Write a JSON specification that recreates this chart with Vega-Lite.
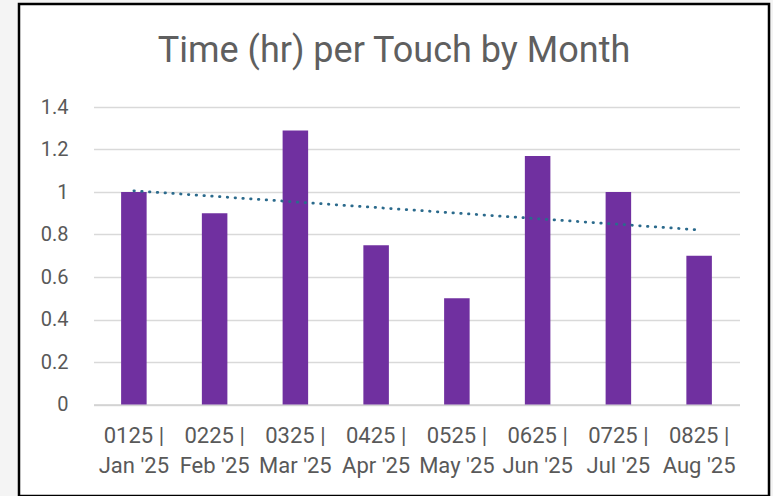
{
  "$schema": "https://vega.github.io/schema/vega-lite/v6.json",
  "autosize": {"type": "none"},
  "padding": {"left": 19, "top": 4, "right": 4, "bottom": 0},
  "width": 750,
  "height": 492,
  "background": "#f4f4f4",
  "datasets": {
    "months": [
      {"i": 1, "label": "0125 | Jan '25", "value": 1.0},
      {"i": 2, "label": "0225 | Feb '25", "value": 0.9},
      {"i": 3, "label": "0325 | Mar '25", "value": 1.29},
      {"i": 4, "label": "0425 | Apr '25", "value": 0.75},
      {"i": 5, "label": "0525 | May '25", "value": 0.5},
      {"i": 6, "label": "0625 | Jun '25", "value": 1.17},
      {"i": 7, "label": "0725 | Jul '25", "value": 1.0},
      {"i": 8, "label": "0825 | Aug '25", "value": 0.7}
    ]
  },
  "data": {"name": "months"},
  "title": {
    "text": "Time (hr) per Touch by Month",
    "fontSize": 36,
    "font": "Roboto",
    "fontWeight": "normal",
    "color": "#5f5f5f",
    "anchor": "middle",
    "baseline": "alphabetic",
    "offset": -94
  },
  "config": {
    "view": {"stroke": "#000000", "strokeWidth": 2.5, "fill": "white"},
    "font": "Roboto"
  },
  "layer": [
    {
      "mark": {"type": "bar", "color": "#7030A0"},
      "encoding": {
        "x": {
          "field": "label",
          "type": "nominal",
          "sort": null,
          "title": null,
          "scale": {"range": [74.5, 720.5], "paddingInner": 0.684, "paddingOuter": 0.342},
          "axis": {
            "orient": "bottom",
            "offset": -91.5,
            "labelAngle": 0,
            "labelExpr": "[slice(datum.value, 0, 6), slice(datum.value, 7)]",
            "labelFontSize": 22,
            "labelColor": "#595959",
            "labelLineHeight": 30,
            "labelPadding": 21,
            "ticks": false,
            "domainColor": "#d0d0d0",
            "domainWidth": 1.5
          }
        },
        "y": {
          "field": "value",
          "type": "quantitative",
          "title": null,
          "scale": {"domain": [0, 1.4], "range": [400.5, 103], "nice": false},
          "axis": {
            "offset": -51,
            "values": [0, 0.2, 0.4, 0.6, 0.8, 1, 1.2, 1.4],
            "format": "~g",
            "labelFontSize": 20,
            "labelColor": "#595959",
            "labelPadding": 2,
            "ticks": false,
            "domain": false,
            "gridColor": "#d9d9d9",
            "gridWidth": 1.5
          }
        }
      }
    },
    {
      "transform": [
        {"regression": "value", "on": "i"},
        {"lookup": "i", "from": {"data": {"name": "months"}, "key": "i", "fields": ["label"]}}
      ],
      "mark": {"type": "line", "color": "#2b6a8c", "strokeWidth": 2.75, "strokeDash": [0.5, 7.3], "strokeCap": "round"},
      "encoding": {
        "x": {"field": "label", "type": "nominal", "sort": null},
        "y": {"field": "value", "type": "quantitative"}
      }
    }
  ]
}
